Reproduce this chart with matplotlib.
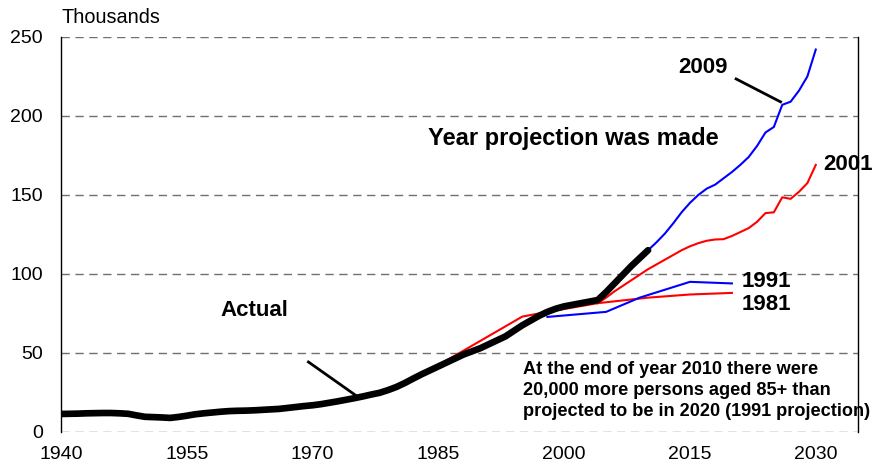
import matplotlib.pyplot as plt
import numpy as np

plt.rcParams['font.family'] = ['Liberation Sans', 'DejaVu Sans']

# Actual population aged 85+ (thousands)
actual_years = list(range(1940, 2011))
actual_vals = [11.4, 11.5, 11.6, 11.8, 11.9, 12.0, 12.0, 11.8, 11.5, 10.5,
               9.6, 9.4, 9.2, 8.9, 9.5, 10.3, 11.2, 11.8, 12.3, 12.8,
               13.2, 13.4, 13.5, 13.7, 14.0, 14.3, 14.6, 15.2, 15.8, 16.4,
               16.9, 17.6, 18.5, 19.4, 20.4, 21.4, 22.5, 23.7, 24.8, 26.5,
               28.5, 31.0, 33.8, 36.5, 39.0, 41.5, 44.0, 46.5, 49.0, 51.0,
               53.0, 55.5, 58.0, 60.5, 64.0, 67.5, 70.5, 73.5, 76.0, 78.0,
               79.5, 80.5, 81.5, 82.5, 83.5, 88.5, 94.0, 99.5, 105.0, 110.0,
               115.0]

# Projections by year made
p1981_years = [1981, 1995, 1998, 2004, 2010, 2015, 2020]
p1981_vals = [30, 73, 76, 81.5, 85, 87, 88]

p1991_years = [1998, 2005, 2009, 2015, 2020]
p1991_vals = [72.8, 76, 85, 95, 94]

p2001_years = list(range(2004, 2031))
p2001_vals = [81.5, 85, 89, 92.5, 96, 99.5, 103, 106, 109, 112, 115, 117.5,
              119.5, 121, 121.8, 122, 124, 126.5, 129, 133, 138.5, 139,
              148.5, 147.5, 152, 157.5, 169]

p2009_years = list(range(2010, 2031))
p2009_vals = [115, 120, 125.5, 132, 139, 145, 150, 154, 156.5, 160.5, 164.5,
              169, 174, 181, 189.5, 193, 207, 209, 216, 225, 242]

xticks = [1940, 1955, 1970, 1985, 2000, 2015, 2030]
yticks = [0, 50, 100, 150, 200, 250]

fig = plt.figure(figsize=(8.77, 4.67), dpi=100)
ax = fig.add_axes([0.0696, 0.075, 0.9084, 0.846])

ax.plot(p1981_years, p1981_vals, color='#ff0000', lw=1.5, zorder=3)
ax.plot(p1991_years, p1991_vals, color='#0000ff', lw=1.5, zorder=3)
ax.plot(p2001_years, p2001_vals, color='#ff0000', lw=1.5, zorder=3)
ax.plot(p2009_years, p2009_vals, color='#0000ff', lw=1.5, zorder=3)
ax.plot(actual_years, actual_vals, color='black', lw=4.8, zorder=4,
        solid_capstyle='round')

ax.set_xlim(1940, 2035)
ax.set_ylim(0, 250)
ax.set_xticks(xticks)
ax.set_yticks(yticks)
ax.tick_params(length=0, labelsize=14)
ax.tick_params(axis='y', pad=13)
ax.tick_params(axis='x', pad=10)
for y in yticks:
    ax.axhline(y, color='#707070', lw=1, ls=(0, (6, 4)), zorder=1)
ax.spines['top'].set_visible(False)
ax.spines['bottom'].set_visible(False)
ax.spines['left'].set_linewidth(1)
ax.spines['right'].set_linewidth(1)

ax.text(1940, 262, 'Thousands', fontsize=14.3, ha='left', va='center',
        clip_on=False)

bold = dict(fontsize=16, fontweight='bold', ha='center', va='center')
ax.text(2016.5, 230.4, '2009', **bold)
ax.plot([2020.5, 2025.8], [223.4, 208.9], color='black', lw=2)
ax.text(2001.05, 186, 'Year projection was made',
        **{**bold, 'fontsize': 17})
ax.text(2033.9, 169, '2001', clip_on=False, **bold)
ax.text(2024.1, 95, '1991', **bold)
ax.text(2024.1, 80.4, '1981', **bold)
ax.text(1963.1, 76.6, 'Actual', **bold)
ax.plot([1969.5, 1975.4], [44.3, 22.2], color='black', lw=2)

ax.text(1995.1, 26.3,
        'At the end of year 2010 there were\n'
        '20,000 more persons aged 85+ than\n'
        'projected to be in 2020 (1991 projection)',
        fontsize=13.1, fontweight='bold', ha='left', va='center',
        linespacing=1.3, zorder=5)

fig.savefig('out.png', dpi=100)
